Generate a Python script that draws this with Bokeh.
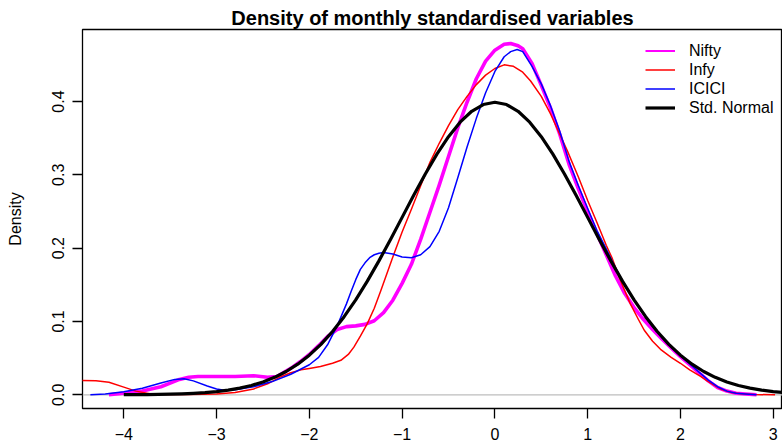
from bokeh.plotting import figure
from bokeh.models import Range1d, FixedTicker, Span, Legend, LegendItem
from bokeh.embed import file_html
from bokeh.resources import INLINE

# ---------------- data ----------------
TITLE = "Density of monthly standardised variables"
Y_LABEL = "Density"
x_ticks = [-4, -3, -2, -1, 0, 1, 2, 3]
x_tick_labels = ["\u22124", "\u22123", "\u22122", "\u22121", "0", "1", "2", "3"]
y_ticks = [0.0, 0.1, 0.2, 0.3, 0.4]
y_tick_labels = ["0.0", "0.1", "0.2", "0.3", "0.4"]
series_names = ["Nifty", "Infy", "ICICI", "Std. Normal"]

nifty_x = [-4.16, -4.0, -3.8, -3.6, -3.5, -3.4, -3.3, -3.2, -3.0, -2.8, -2.6, -2.45, -2.35,
           -2.2, -2.1, -2.0, -1.9, -1.8, -1.7, -1.6, -1.5, -1.4, -1.3, -1.2, -1.1, -1.0,
           -0.9, -0.8, -0.7, -0.6, -0.5, -0.4, -0.3, -0.2, -0.1, 0.0, 0.1, 0.17, 0.25, 0.3,
           0.4, 0.5, 0.6, 0.7, 0.8, 0.9, 1.0, 1.1, 1.2, 1.3, 1.4, 1.5, 1.6, 1.7, 1.8, 1.9,
           2.0, 2.1, 2.2, 2.3, 2.4, 2.5, 2.6, 2.7, 2.82]
nifty_y = [0.000, 0.002, 0.005, 0.011, 0.016, 0.021, 0.024, 0.025, 0.025, 0.025, 0.026, 0.024, 0.025,
           0.036, 0.045, 0.055, 0.067, 0.080, 0.089, 0.093, 0.094, 0.096, 0.101, 0.112, 0.129, 0.152,
           0.178, 0.212, 0.249, 0.286, 0.325, 0.364, 0.399, 0.431, 0.455, 0.470, 0.478, 0.479, 0.476, 0.472,
           0.452, 0.422, 0.391, 0.355, 0.314, 0.281, 0.250, 0.220, 0.191, 0.162, 0.138, 0.119, 0.103, 0.089,
           0.076, 0.064, 0.052, 0.041, 0.030, 0.019, 0.010, 0.005, 0.002, 0.001, 0.000]

infy_x = [-4.45, -4.3, -4.16, -4.0, -3.87, -3.72, -3.55, -3.3, -3.0, -2.8, -2.6, -2.45, -2.3, -2.2,
          -2.09, -2.0, -1.88, -1.75, -1.66, -1.58, -1.52, -1.45, -1.375, -1.3, -1.23, -1.1, -1.0,
          -0.9, -0.8, -0.7, -0.6, -0.5, -0.4, -0.3, -0.2, -0.1, 0.0, 0.1, 0.2, 0.3, 0.385, 0.5,
          0.6, 0.7, 0.78, 0.9, 1.0, 1.1, 1.2, 1.265, 1.35, 1.46, 1.55, 1.61, 1.7, 1.785, 1.9, 2.0,
          2.1, 2.217, 2.3, 2.43, 2.55, 2.65, 2.8, 3.02]
infy_y = [0.0195, 0.019, 0.017, 0.0105, 0.005, 0.0015, 0.0004, 0.0005, 0.001, 0.003, 0.008, 0.015, 0.025, 0.030,
          0.034, 0.036, 0.0386, 0.043, 0.047, 0.055, 0.065, 0.080, 0.097, 0.118, 0.142, 0.188, 0.222,
          0.253, 0.285, 0.317, 0.343, 0.367, 0.389, 0.407, 0.423, 0.436, 0.445, 0.450, 0.448, 0.440, 0.428, 0.407,
          0.383, 0.355, 0.333, 0.297, 0.265, 0.235, 0.204, 0.186, 0.157, 0.124, 0.102, 0.088, 0.073, 0.062, 0.051, 0.043,
          0.034, 0.025, 0.018, 0.008, 0.003, 0.0014, 0.0004, 0.000]

icici_x = [-4.36, -4.2, -4.0, -3.8, -3.6, -3.45, -3.35, -3.25, -3.1, -3.0, -2.9, -2.8, -2.6, -2.4,
           -2.2, -2.0, -1.9, -1.8, -1.7, -1.6, -1.55, -1.5, -1.45, -1.4, -1.35, -1.3, -1.25, -1.2,
           -1.1, -1.0, -0.9, -0.8, -0.7,
           -0.6, -0.5, -0.4, -0.3, -0.2, -0.1, 0.0, 0.1, 0.17, 0.24, 0.3, 0.4, 0.5, 0.6, 0.7, 0.8,
           0.9, 1.0, 1.1, 1.2, 1.3, 1.4, 1.5, 1.6, 1.7, 1.8, 1.9, 2.0, 2.1, 2.2, 2.3, 2.4, 2.5, 2.6,
           2.7, 2.82]
icici_y = [0.000, 0.001, 0.004, 0.009, 0.016, 0.021, 0.022, 0.019, 0.012, 0.008, 0.006, 0.007, 0.011, 0.018,
           0.028, 0.041, 0.051, 0.069, 0.094, 0.124, 0.141, 0.157, 0.171, 0.180, 0.187, 0.191, 0.193, 0.194,
           0.192, 0.188, 0.187, 0.191, 0.202,
           0.223, 0.255, 0.296, 0.338, 0.377, 0.412, 0.441, 0.461, 0.468, 0.471, 0.468, 0.448, 0.424, 0.394, 0.359, 0.318,
           0.285, 0.254, 0.224, 0.199, 0.173, 0.150, 0.129, 0.110, 0.093, 0.078, 0.065, 0.053, 0.042, 0.031, 0.020, 0.011,
           0.005, 0.002, 0.001, 0.000]

normal_x = [-4.0, -3.875, -3.75, -3.625, -3.5, -3.375, -3.25, -3.125, -3.0, -2.875, -2.75, -2.625,
            -2.5, -2.375, -2.25, -2.125, -2.0, -1.875, -1.75, -1.625, -1.5, -1.375, -1.25, -1.125,
            -1.0, -0.875, -0.75, -0.625, -0.5, -0.375, -0.25, -0.125, 0.0, 0.125, 0.25, 0.375, 0.5,
            0.625, 0.75, 0.875, 1.0, 1.125, 1.25, 1.375, 1.5, 1.625, 1.75, 1.875, 2.0, 2.125, 2.25,
            2.375, 2.5, 2.625, 2.75, 2.875, 3.0, 3.125, 3.25]
normal_y = [0.00013, 0.00022, 0.00035, 0.00056, 0.00087, 0.00134, 0.00203, 0.00302, 0.00443, 0.00640,
            0.00909, 0.01273, 0.01753, 0.02377, 0.03174, 0.04172, 0.05399, 0.06879, 0.08628, 0.10654,
            0.12952, 0.15502, 0.18265, 0.21187, 0.24197, 0.27205, 0.30114, 0.32816, 0.35207, 0.37185,
            0.38667, 0.39584, 0.39894, 0.39584, 0.38667, 0.37185, 0.35207, 0.32816, 0.30114, 0.27205,
            0.24197, 0.21187, 0.18265, 0.15502, 0.12952, 0.10654, 0.08628, 0.06879, 0.05399, 0.04172,
            0.03174, 0.02377, 0.01753, 0.01273, 0.00909, 0.00640, 0.00443, 0.00302, 0.00203]

# ---------------- figure ----------------
FONT = "Liberation Sans"

p = figure(width=782, height=447,
           x_range=Range1d(-4.445, 3.10), y_range=Range1d(-0.0187, 0.4982),
           output_backend="svg", toolbar_location=None,
           min_border_left=82, min_border_right=0, min_border_top=29, min_border_bottom=39)
p.background_fill_color = "white"
p.border_fill_color = "white"
p.xgrid.visible = False
p.ygrid.visible = False
p.outline_line_color = "black"
p.outline_line_width = 1.3

p.title.text = TITLE
p.title.align = "center"
p.title.text_font = FONT
p.title.text_font_size = "20px"
p.title.text_font_style = "bold"
p.title.text_color = "black"
p.title.standoff = 2

for ax in (p.xaxis[0], p.yaxis[0]):
    ax.axis_line_color = None
    ax.major_tick_line_color = "black"
    ax.major_tick_line_width = 1.3
    ax.major_tick_out = 10
    ax.major_tick_in = 0
    ax.minor_tick_line_color = None
    ax.major_label_text_font = FONT
    ax.major_label_text_font_size = "16px"
    ax.major_label_text_color = "black"

p.xaxis.ticker = FixedTicker(ticks=x_ticks)
p.xaxis.major_label_overrides = {t: s for t, s in zip(x_ticks, x_tick_labels)}
p.xaxis.major_label_standoff = 9

p.yaxis.ticker = FixedTicker(ticks=y_ticks)
p.yaxis.major_label_overrides = {t: s for t, s in zip(y_ticks, y_tick_labels)}
p.yaxis.major_label_orientation = "vertical"
p.yaxis.major_label_standoff = 8
p.yaxis.axis_label = Y_LABEL
p.yaxis.axis_label_text_font = FONT
p.yaxis.axis_label_text_font_size = "16px"
p.yaxis.axis_label_text_font_style = "normal"
p.yaxis.axis_label_text_color = "black"
p.yaxis.axis_label_standoff = 26

zero = Span(location=0, dimension="width", line_color="#bebebe", line_width=1.3, level="underlay")
p.add_layout(zero)

r_nifty = p.line(nifty_x, nifty_y, line_color="#FF00FF", line_width=3.6, line_join="round")
r_infy = p.line(infy_x, infy_y, line_color="#FF0000", line_width=1.5, line_join="round")
r_icici = p.line(icici_x, icici_y, line_color="#0000FF", line_width=1.5, line_join="round")
r_norm = p.line(normal_x, normal_y, line_color="black", line_width=3.2, line_join="round")

# thin sample line for the Nifty legend entry (a single point draws nothing in the plot)
leg_nifty = p.line(nifty_x[:1], nifty_y[:1], line_color="#FF00FF", line_width=2)

legend = Legend(items=[LegendItem(label=series_names[0], renderers=[leg_nifty]),
                       LegendItem(label=series_names[1], renderers=[r_infy]),
                       LegendItem(label=series_names[2], renderers=[r_icici]),
                       LegendItem(label=series_names[3], renderers=[r_norm])],
                location=(563, 291), padding=0, spacing=0, margin=0,
                glyph_width=30, glyph_height=19, label_height=19, label_standoff=14,
                label_text_font=FONT, label_text_font_size="16px", label_text_color="black",
                border_line_color=None, background_fill_alpha=0)
p.add_layout(legend)

open("out.html", "w").write(file_html(p, INLINE))
